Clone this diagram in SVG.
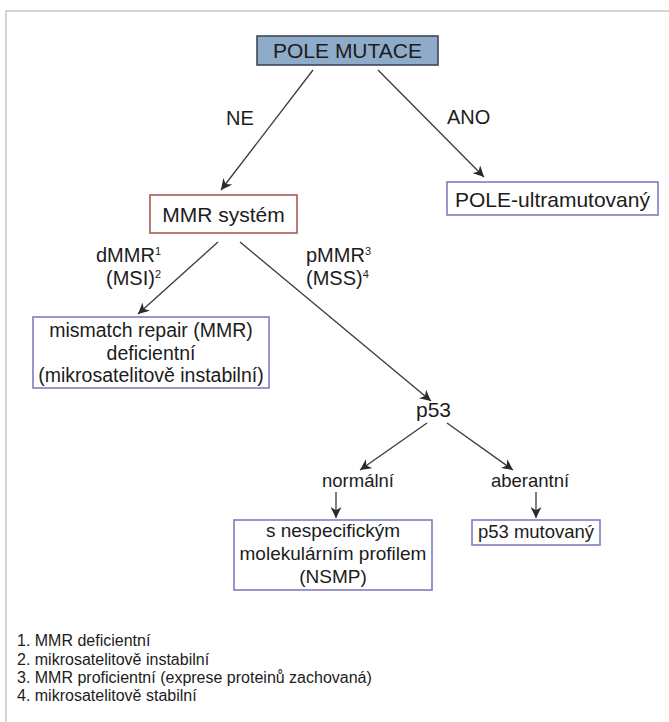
<svg xmlns="http://www.w3.org/2000/svg" width="669" height="722" viewBox="0 0 669 722">
<style>
text{font-family:"Liberation Sans",Arial,sans-serif;fill:#1c1c1c}
.b{fill:#fff;stroke:#7d7dbd;stroke-width:1.6}
.c{stroke:#3a3a3a;stroke-width:1.3;fill:none;marker-end:url(#ah)}
.m{text-anchor:middle}
.s{font-size:11px}
</style>
<defs>
<marker id="ah" viewBox="0 0 10 10" refX="10" refY="5" markerWidth="11" markerHeight="11" markerUnits="userSpaceOnUse" orient="auto">
<path d="M0,0 L10,5 L0,10 L3,5 z" fill="#2a2a2a"/>
</marker>
</defs>
<rect x="0" y="0" width="669" height="722" fill="#fff"/>
<rect x="6" y="11" width="700" height="760" fill="none" stroke="#d4d4d4" stroke-width="2"/>
<g id="connectors">
<line class="c" x1="313" y1="70" x2="221" y2="190"/>
<line class="c" x1="378" y1="70" x2="484" y2="177"/>
<line class="c" x1="218" y1="242" x2="138" y2="314"/>
<line class="c" x1="240" y1="242" x2="431" y2="401"/>
<line class="c" x1="427" y1="423" x2="360" y2="470"/>
<line class="c" x1="447" y1="423" x2="513" y2="470"/>
<line class="c" x1="336" y1="492" x2="336" y2="518"/>
<line class="c" x1="536" y1="492" x2="536" y2="518"/>
</g>
<g id="labels" font-size="20">
<text x="226" y="125">NE</text>
<text x="447" y="124">ANO</text>
<text x="161" y="262" text-anchor="end">dMMR<tspan class="s" dy="-7">1</tspan></text>
<text x="161" y="285" text-anchor="end">(MSI)<tspan class="s" dy="-7">2</tspan></text>
<text x="306" y="262">pMMR<tspan class="s" dy="-7">3</tspan></text>
<text x="306" y="285">(MSS)<tspan class="s" dy="-7">4</tspan></text>
</g>
<g id="pole">
<rect x="257" y="36" width="181" height="29" fill="#8eabc9" stroke="#3d4956" stroke-width="1.6"/>
<text class="m" x="347.5" y="58" font-size="21">POLE MUTACE</text>
</g>
<g id="mmr">
<rect x="150" y="195" width="147" height="38" fill="#fff" stroke="#a85a52" stroke-width="1.6"/>
<text class="m" x="223.5" y="222" font-size="21">MMR systém</text>
</g>
<g id="ultra">
<rect class="b" x="447" y="182" width="211" height="33"/>
<text class="m" x="552.5" y="207" font-size="21">POLE-ultramutovaný</text>
</g>
<g id="dmmr">
<rect class="b" x="33" y="317" width="236" height="71"/>
<text class="m" x="151" y="337" font-size="19.5">mismatch repair (MMR)</text>
<text class="m" x="151" y="360" font-size="19.5">deficientní</text>
<text class="m" x="151" y="382" font-size="19.5">(mikrosatelitově instabilní)</text>
</g>
<g id="p53">
<text class="m" x="433.5" y="417" font-size="21">p53</text>
</g>
<g id="normalni">
<text class="m" x="358" y="487" font-size="18.5">normální</text>
</g>
<g id="aberantni">
<text class="m" x="530" y="487" font-size="18.5">aberantní</text>
</g>
<g id="nsmp">
<rect class="b" x="234" y="520" width="198" height="70"/>
<text class="m" x="333" y="537" font-size="19">s nespecifickým</text>
<text class="m" x="333" y="560" font-size="19">molekulárním profilem</text>
<text class="m" x="333" y="583" font-size="19">(NSMP)</text>
</g>
<g id="mutovany">
<rect class="b" x="472" y="520" width="128" height="25"/>
<text class="m" x="536" y="538" font-size="18.5">p53 mutovaný</text>
</g>
<g id="footnotes" font-size="16">
<text x="17" y="646">1. MMR deficientní</text>
<text x="17" y="665">2. mikrosatelitově instabilní</text>
<text x="17" y="683">3. MMR proficientní (exprese proteinů zachovaná)</text>
<text x="17" y="701">4. mikrosatelitově stabilní</text>
</g>
</svg>
